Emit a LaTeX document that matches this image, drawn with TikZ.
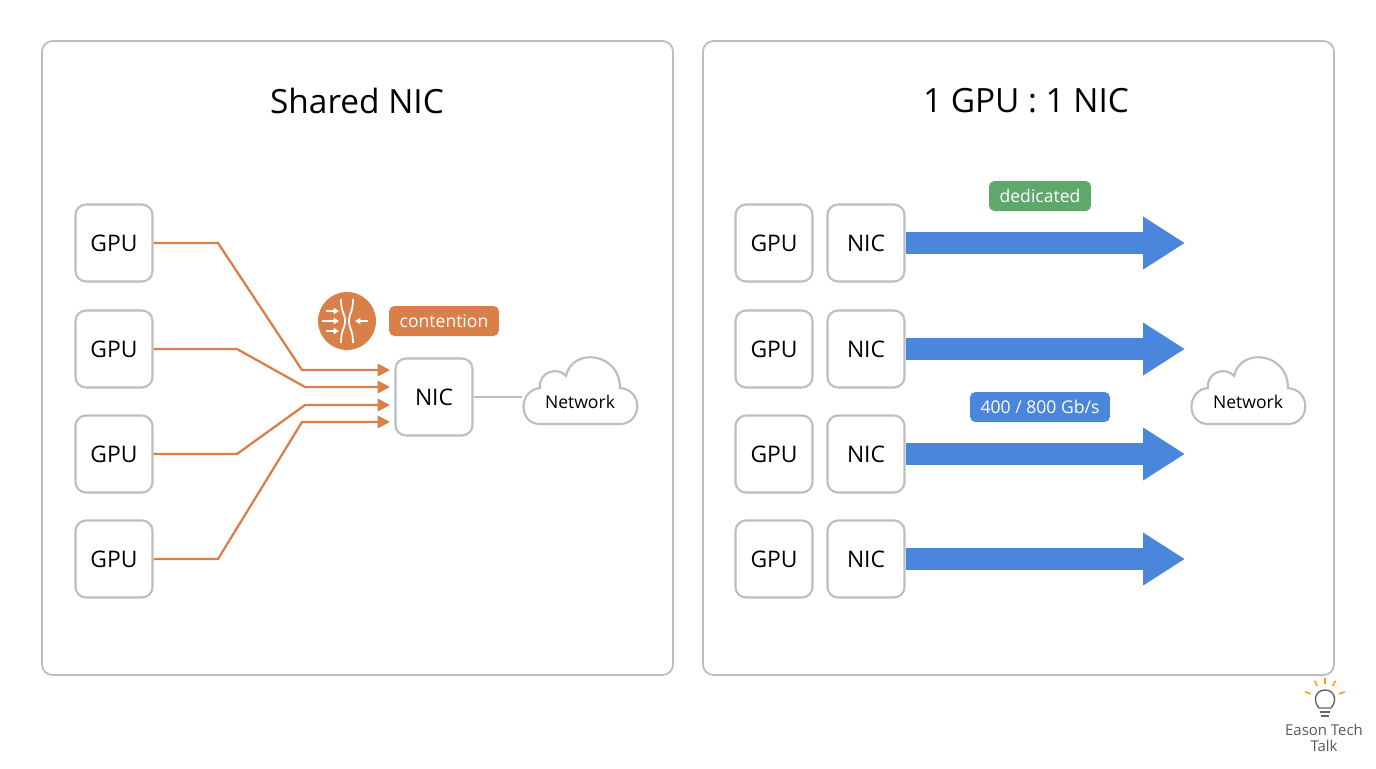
\documentclass[tikz,border=0pt]{standalone}
\usepackage{fontspec}
\setmainfont{Open Sans}
\usetikzlibrary{arrows.meta}
\definecolor{edge}{HTML}{BDBDBD}
\definecolor{orng}{HTML}{D9804A}
\definecolor{grn}{HTML}{5FA86C}
\definecolor{blu}{HTML}{4A86DB}
\tikzset{
  panel/.style={draw=edge, line width=1pt, rounded corners=6pt},
  chip/.style={draw=edge, line width=1.2pt, rounded corners=6pt, minimum width=77*0.02cm, minimum height=77*0.02cm, font=\fontsize{13}{15}\selectfont},
  tag/.style={rounded corners=3pt, text=white, font=\fontsize{10}{12}\selectfont, minimum height=30*0.02cm, inner xsep=6pt},
  fat/.style={blu, line width=22*0.567pt, -{Triangle[length=42*0.567pt,width=50*0.567pt]}},
  flow/.style={orng, line width=1.3pt, -{Triangle[length=7pt,width=7pt]}}
}
% cloud outline around a point
\newcommand\netcloud[2]{%
  \draw[edge, line width=1.2pt, shift={(#1,#2)}] (-40,22) -- (40,22)
    .. controls (62,22) and (64,-12) .. (40,-14)
    .. controls (40,-50) and (-8,-55) .. (-14,-26)
    .. controls (-22,-36) and (-42,-30) .. (-40,-14)
    .. controls (-62,-12) and (-62,22) .. (-40,22) -- cycle;}
\begin{document}
\begin{tikzpicture}[x=0.02cm, y=-0.02cm]
\useasboundingbox (0,0) rectangle (1376,768);
% panels
\draw[panel] (42,41) rectangle (673,675);
\draw[panel] (703,41) rectangle (1334,675);
\node[font=\fontsize{19}{23}\selectfont] (tl) at (357,101) {Shared NIC};
\node[font=\fontsize{19}{23}\selectfont] (tr) at (1026,101) {1 GPU : 1 NIC};
% left: shared
\foreach \i/\y in {1/243,2/349,3/454,4/559}
  \node[chip] (g\i) at (114,\y) {GPU};
\node[chip] (nic) at (434,397) {NIC};
\netcloud{580}{402}
\node[font=\fontsize{10}{12}\selectfont] (cl) at (580,402) {Network};
\coordinate (cle) at (522,397);
\coordinate (e1) at (390,370);
\coordinate (e2) at (390,387);
\coordinate (e3) at (390,405);
\coordinate (e4) at (390,422);
\draw[flow] (g1.east) -- (218,243) -- (302,370) -- (e1);
\draw[flow] (g2.east) -- (237,349) -- (305,387) -- (e2);
\draw[flow] (g3.east) -- (237,454) -- (305,405) -- (e3);
\draw[flow] (g4.east) -- (218,559) -- (302,422) -- (e4);
\draw[edge, line width=1.2pt] (nic) -- (cle);
% contention icon
\node[circle, fill=orng, minimum size=58*0.02cm] (ic) at (347,321) {};
\draw[white, line width=1pt] (341,299) .. controls (341,313) and (345,313) .. (345,321) .. controls (345,329) and (341,329) .. (341,343);
\draw[white, line width=1pt] (353,299) .. controls (353,313) and (349,313) .. (349,321) .. controls (349,329) and (353,329) .. (353,343);
\foreach \y/\l in {311/326,321/322,331/326}
  \draw[white, line width=0.8pt, -{Triangle[length=3pt,width=3.5pt]}] (\l,\y) -- (339,\y);
\draw[white, line width=0.8pt, -{Triangle[length=3pt,width=3.5pt]}] (368,321) -- (355,321);
\node[tag, fill=orng] (ct) at (444,321) {contention};
% right: dedicated
\foreach \i/\y in {1/243,2/349,3/454,4/559}{
  \node[chip] (h\i) at (774,\y) {GPU};
  \node[chip] (n\i) at (866,\y) {NIC};
  \coordinate (t\i) at (1185,\y);
  \draw[fat] (n\i.east) -- (t\i);
}
\node[tag, fill=grn] (dd) at (1040,196) {dedicated};
\node[tag, fill=blu] (bw) at (1040,407) {400 / 800 Gb/s};
\netcloud{1248}{402}
\node[font=\fontsize{10}{12}\selectfont] (cr) at (1248,402) {Network};
% logo
\node[text=black!65, align=center, font=\fontsize{8.5}{9}\selectfont] (lg) at (1324,738) {Eason Tech\\Talk};
\draw[black!60, line width=0.8pt] (1319,708) .. controls (1312,700) and (1316,690) .. (1325,690) .. controls (1334,690) and (1338,700) .. (1331,708) -- cycle;
\draw[black!60, line width=0.8pt] (1320,712) -- (1330,712) (1321,716) -- (1329,716);
\foreach \a in {200,240,270,300,340}
  \draw[orange!80!yellow, line width=0.8pt] (1325,699) ++(\a:15) -- ++(\a:6);
\end{tikzpicture}
\end{document}
